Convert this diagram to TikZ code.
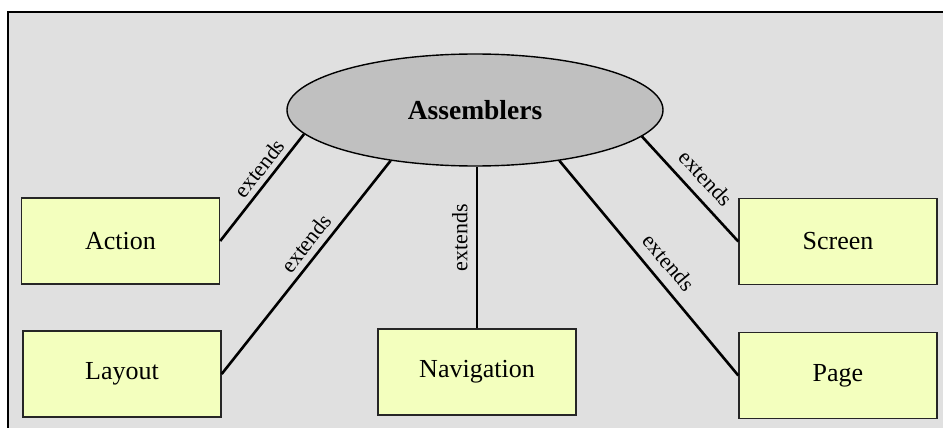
\documentclass[tikz,border=0pt]{standalone}
\usepackage{fontspec}
\setmainfont{Liberation Serif}
\usetikzlibrary{shapes.geometric}
\definecolor{panelgray}{RGB}{224,224,224}
\definecolor{boxyellow}{RGB}{243,255,190}
\definecolor{hubgray}{RGB}{192,192,192}
\begin{document}
\begin{tikzpicture}[x=1pt,y=-1pt,
  module/.style={draw=black!85, line width=1.4pt, fill=boxyellow,
    minimum width=198pt, minimum height=86pt, inner sep=0pt,
    font=\fontsize{26}{30}\selectfont},
  hub/.style={ellipse, draw=black, line width=1.4pt, fill=hubgray,
    minimum width=376pt, minimum height=112pt, inner sep=0pt,
    font=\bfseries\fontsize{27.5}{32}\selectfont},
  link/.style={line width=2.6pt},
  rel/.style={sloped, inner sep=1pt, font=\fontsize{22}{26}\selectfont}]
\useasboundingbox (0,0) rectangle (943,428);
% grey panel behind the diagram
\path[fill=panelgray, draw=black, line width=1.5pt] (8,12) rectangle (960,450);

\node[hub] (asm) at (475,110) {Assemblers};
\node[module] (act) at (120.5,241) {Action};
\node[module] (lay) at (122,374) {Layout};
\node[module] (nav) at (477,372) {Navigation};
\node[module] (scr) at (838,241.5) {Screen};
\node[module] (pag) at (838,375.5) {Page};

\draw[link] (act.east) -- node[rel, pos=0.60, above=4pt] {extends} (asm.188.5);
\draw[link] (lay.east) -- node[rel, pos=0.57, above=5pt] {extends} (asm.211);
\draw[link] (nav.north) -- node[rel, pos=0.56, above=7pt] {extends} (nav.north |- asm.south);
\draw[link] (asm.351.5) -- node[rel, pos=0.52, above=9pt] {extends} (scr.west);
\draw[link] (asm.329.5) -- node[rel, pos=0.53, above=9pt] {extends} (pag.west);
\end{tikzpicture}
\end{document}
